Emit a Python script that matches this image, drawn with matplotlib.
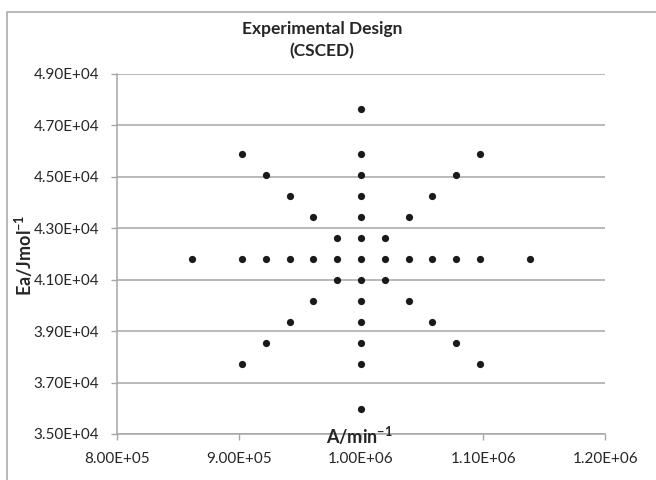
import matplotlib
matplotlib.use("Agg")
import matplotlib.pyplot as plt
from matplotlib.patches import Rectangle
from matplotlib.ticker import FuncFormatter

plt.rcParams['font.family'] = ['Lato', 'DejaVu Sans']
plt.rcParams['mathtext.fontset'] = 'custom'
plt.rcParams['mathtext.bf'] = 'Lato:bold'
plt.rcParams['mathtext.rm'] = 'Lato'

# design points (A in min^-1, Ea in J/mol)
# horizontal arm (Ea at centre level)
A_row = [8.62e5, 9.025e5, 9.22e5, 9.415e5, 9.61e5, 9.805e5, 1.0e6,
         1.0195e6, 1.039e6, 1.0585e6, 1.078e6, 1.0975e6, 1.138e6]
Ea_row = [41820] * 13
# vertical arm (A at centre level), centre excluded
A_col = [1.0e6] * 12
Ea_col = [47630, 45900, 45084, 44268, 43452, 42636,
          41004, 40188, 39372, 38556, 37740, 35960]
# diagonal arms
A_diag = [9.025e5, 9.22e5, 9.415e5, 9.61e5, 9.805e5,
          1.0975e6, 1.078e6, 1.0585e6, 1.039e6, 1.0195e6,
          9.025e5, 9.22e5, 9.415e5, 9.61e5, 9.805e5,
          1.0975e6, 1.078e6, 1.0585e6, 1.039e6, 1.0195e6]
Ea_diag = [45900, 45084, 44268, 43452, 42636,
           45900, 45084, 44268, 43452, 42636,
           37740, 38556, 39372, 40188, 41004,
           37740, 38556, 39372, 40188, 41004]

x_ticks = [8.0e5, 9.0e5, 1.0e6, 1.1e6, 1.2e6]
y_ticks = [35000, 37000, 39000, 41000, 43000, 45000, 47000, 49000]

W, H = 656, 480
grey = '#a6a6a6'

fig = plt.figure(figsize=(W / 100, H / 100), dpi=100)
ax = fig.add_axes([116.7 / W, 1 - 434 / H, (605.3 - 116.7) / W, (434 - 74) / H])

for xs, ys in [(A_row, Ea_row), (A_col, Ea_col), (A_diag, Ea_diag)]:
    ax.plot(xs, ys, 'o', color='#1a1a1a', markersize=5.2, markeredgewidth=0,
            zorder=3, clip_on=False)

ax.set_xlim(x_ticks[0], x_ticks[-1])
ax.set_ylim(y_ticks[0], y_ticks[-1])
ax.set_xticks(x_ticks)
ax.set_yticks(y_ticks)
fmt = FuncFormatter(lambda v, p: '{:.2E}'.format(v))
ax.xaxis.set_major_formatter(fmt)
ax.yaxis.set_major_formatter(fmt)

ax.grid(axis='y', color=grey, linewidth=1.1)
ax.set_axisbelow(True)
for s in ['top', 'right']:
    ax.spines[s].set_visible(False)
for s in ['left', 'bottom']:
    ax.spines[s].set_color(grey)
    ax.spines[s].set_linewidth(1.1)
ax.tick_params(axis='x', length=4, width=1, color=grey, pad=9,
               labelsize=11, labelcolor='#262626')
ax.tick_params(axis='y', length=4.5, width=1, color=grey, pad=8,
               labelsize=11, labelcolor='#262626')

# outer chart border
fig.add_artist(Rectangle((7 / W, -0.1), 2, 1 - 12 / H + 0.1,
                         transform=fig.transFigure, fill=False,
                         edgecolor=grey, linewidth=1.1))

fig.text(322 / W, 1 - 40 / H, 'Experimental Design\n(CSCED)', ha='center',
         va='center', fontsize=12.5, fontweight='bold', color='#262626',
         linespacing=1.45)
fig.text(359 / W, 1 - 436 / H, r'A/min$^{\mathbf{-1}}$', ha='center',
         va='center', fontsize=13, fontweight='bold', color='#262626')
fig.text(24 / W, 1 - 255 / H, r'Ea/Jmol$^{\mathbf{-1}}$', ha='center',
         va='center', rotation=90, fontsize=13, fontweight='bold',
         color='#262626')

fig.savefig('out.png', dpi=100)
